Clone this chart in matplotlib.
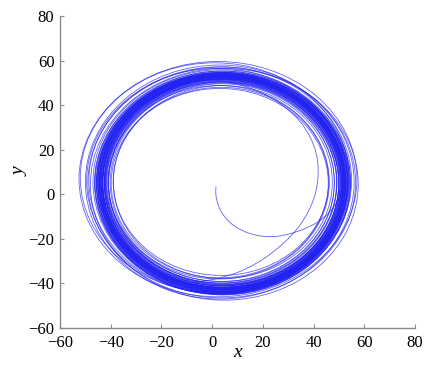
import matplotlib
matplotlib.use("Agg")
import matplotlib.pyplot as plt
from matplotlib.patches import Ellipse

plt.rcParams["font.family"] = ["Liberation Serif", "DejaVu Serif"]
plt.rcParams["axes.unicode_minus"] = True

# ---- data ----
# initial spiral leaving the origin (x, y)
spiral_x = [1.5, 1.4, 1.6, 2.1, 2.8, 3.8, 5.0, 6.4, 8.0, 9.8, 11.8, 14.0, 16.4, 19.0, 21.6, 24.2, 26.8, 29.4, 32.0,
            34.6, 37.0, 39.4, 41.6, 43.6, 45.4, 47.0, 48.4, 49.6, 50.5, 51.2, 51.6]
spiral_y = [3.3, 1.0, -1.4, -3.8, -6.0, -8.2, -10.2, -12.0, -13.6, -15.0, -16.2, -17.3, -18.1, -18.7, -19.0, -19.0,
            -18.7, -18.1, -17.3, -16.3, -15.2, -13.9, -12.5, -10.9, -9.1, -7.1, -4.9, -2.5, 0.0, 2.6, 5.2]

# inner arc that rises from the bottom of the band (x, y)
arc_x = [-8.0, -3.0, 2.0, 7.0, 11.5, 15.5, 19.5, 23.0, 26.5, 29.8, 32.8, 35.4, 37.6, 39.3, 40.6, 41.4, 41.8, 41.8,
         41.4, 40.6, 39.4, 37.8, 35.8, 33.4, 30.6, 27.4, 23.8, 19.8, 15.4, 10.8, 6.0, 1.0]
arc_y = [-39.6, -38.9, -37.8, -36.3, -34.4, -32.2, -29.6, -26.8, -23.6, -20.2, -16.5, -12.6, -8.5, -4.4, -0.2, 4.0,
         8.2, 12.3, 16.3, 20.2, 23.9, 27.5, 31.0, 34.3, 37.4, 40.3, 43.0, 45.4, 47.5, 49.2, 50.5, 51.3]

# loops of the attractor: centre (cx, cy), half-widths (rx, ry)
loop_cx = [4.0, 3.6, 4.2, 3.8, 4.5, 3.5, 4.1, 3.9, 4.4, 3.7, 4.0, 4.3, 3.6, 4.2, 3.9, 4.6, 3.8, 4.1, 4.0, 3.7,
           4.3, 4.5, 3.9, 4.2, 3.6, 4.0, 4.4, 3.8, 4.1, 4.2, 3.9, 4.3, 3.7, 4.0, 4.5, 3.6, 4.1, 4.2, 3.8, 4.4,
           4.0, 3.7, 4.3, 3.9, 4.1, 3.8, 4.2, 4.0,
           2.3, 3.0, 3.8, 1.0, 4.8, 2.0, 3.2,
           3.5, 3.0, 4.2, 2.6]
loop_cy = [5.2, 5.6, 4.9, 5.3, 5.0, 5.8, 5.1, 4.8, 5.5, 5.2, 5.4, 4.7, 5.0, 5.6, 5.3, 4.9, 5.1, 5.5, 4.8, 5.2,
           5.0, 5.3, 5.7, 4.9, 5.1, 5.4, 5.0, 5.2, 4.6, 5.5, 5.1, 4.9, 5.4, 5.0, 5.3, 4.8, 5.6, 5.1, 4.9, 5.2,
           5.4, 5.0, 4.7, 5.3, 5.1, 5.5, 4.9, 5.2,
           6.8, 5.5, 5.3, 7.5, 4.5, 6.0, 6.2,
           5.8, 5.0, 5.5, 5.4]
loop_rx = [44.2, 44.6, 45.0, 45.3, 45.5, 45.7, 45.9, 46.0, 46.2, 46.3, 46.5, 46.6, 46.8, 46.9, 47.0, 47.1, 47.2, 47.3,
           47.4, 47.5, 47.6, 47.7, 47.8, 47.9, 48.0, 48.1, 48.2, 48.3, 48.4, 48.5, 48.6, 48.7, 48.8, 48.9, 49.0,
           49.1, 49.2, 49.3, 49.4, 49.5, 49.6, 49.8, 50.0, 50.2, 50.5, 50.8, 47.4, 48.1,
           54.8, 53.0, 52.8, 53.0, 52.8, 51.5, 51.8,
           42.5, 42.8, 43.2, 43.6]
loop_ry = [44.4, 44.7, 45.0, 45.2, 45.4, 45.6, 45.8, 45.9, 46.1, 46.2, 46.4, 46.5, 46.7, 46.8, 46.9, 47.0, 47.1, 47.2,
           47.3, 47.4, 47.5, 47.6, 47.7, 47.8, 47.9, 48.0, 48.1, 48.2, 48.3, 48.4, 48.5, 48.6, 48.7, 48.8, 48.9,
           49.0, 49.1, 49.2, 49.3, 49.4, 49.5, 49.6, 49.8, 50.0, 50.2, 50.4, 47.1, 47.9,
           52.8, 52.5, 51.8, 51.5, 52.0, 50.5, 51.0,
           42.2, 42.5, 43.3, 43.4]

# ---- figure ----
W, H, DPI = 427, 369, 100
fig = plt.figure(figsize=(W / DPI, H / DPI), dpi=DPI)
ax = fig.add_axes([60 / W, 1 - 328 / H, 355 / W, 312 / H])

line_col = (0.12, 0.12, 0.95)
for cx, cy, rx, ry in zip(loop_cx, loop_cy, loop_rx, loop_ry):
    ax.add_patch(Ellipse((cx, cy), 2 * rx, 2 * ry, fill=False,
                         edgecolor=line_col, lw=0.6, alpha=0.7))
ax.plot(spiral_x, spiral_y, color=line_col, lw=0.6, alpha=0.7)
ax.plot(arc_x, arc_y, color=line_col, lw=0.6, alpha=0.7)

ax.set_xlim(-60, 80)
ax.set_ylim(-60, 80)
ax.set_xticks(range(-60, 81, 20))
ax.set_yticks(range(-60, 81, 20))

for s in ("top", "right"):
    ax.spines[s].set_visible(False)
for s in ("left", "bottom"):
    ax.spines[s].set_color("#8c8c8c")
    ax.spines[s].set_linewidth(1.0)
ax.tick_params(direction="in", length=3, width=0.8, color="#8c8c8c",
               labelsize=12)
ax.tick_params(axis="x", pad=5)
ax.tick_params(axis="y", pad=4)
ax.set_xlabel("x", style="italic", fontsize=14, labelpad=-5)
ax.set_ylabel("y", style="italic", fontsize=14, labelpad=0)

fig.savefig("out.png", dpi=DPI)
